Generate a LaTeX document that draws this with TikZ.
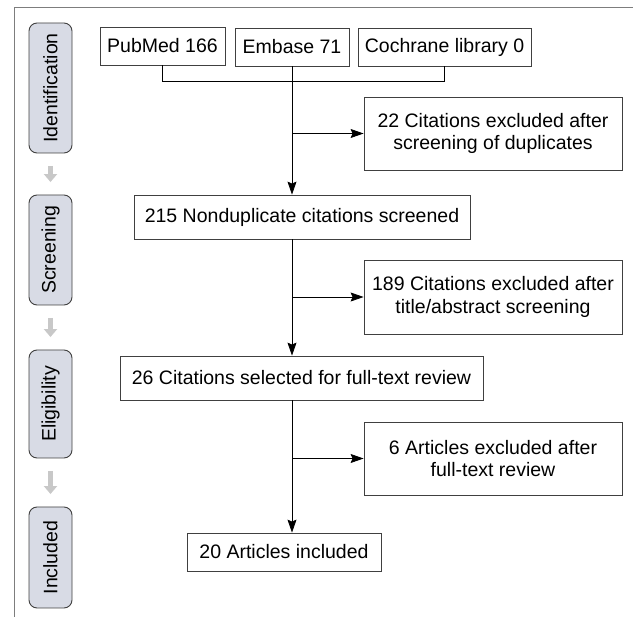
\documentclass[tikz,border=0pt]{standalone}
\usepackage{fontspec}
\setmainfont{Liberation Sans}
\usepackage{xcolor}
\usepackage{tikz}
\usetikzlibrary{arrows.meta,positioning,calc}
\definecolor{stagefill}{RGB}{216,219,229}
\definecolor{boxline}{RGB}{64,64,64}
\definecolor{framegray}{RGB}{125,125,125}
\definecolor{stepgray}{RGB}{200,200,200}

\begin{document}
\begin{tikzpicture}[
    x=1pt, y=-1pt,
    font=\fontsize{19.5}{22.5}\selectfont,
    box/.style={draw=boxline, line width=0.8pt, align=center, inner sep=0pt, fill=white},
    stage/.style={draw=boxline, line width=0.9pt, rounded corners=8pt, fill=stagefill, rotate=90, minimum height=43pt, inner sep=0pt},
    flow/.style={draw=black, line width=0.8pt, -{Stealth[length=13pt,width=9pt,inset=2pt]}},
    merge/.style={draw=black, line width=0.8pt},
    stepdown/.style={draw=stepgray, line width=5.5pt, -{Triangle[width=13pt,length=8pt]}, shorten <=12.5pt, shorten >=12.5pt}
]
    \useasboundingbox (0,0) rectangle (633,617);

    % Frame
    \draw[framegray, line width=1pt] (14,617) -- (14,8) -- (633,8);

    % Stages
    \node[stage, minimum width=130pt] (ident) at (50.5,88) {Identification};
    \node[stage, minimum width=110pt] (screen) at (50.5,250) {Screening};
    \node[stage, minimum width=108pt] (elig) at (50.5,404) {Eligibility};
    \node[stage, minimum width=101pt] (incl) at (50.5,557.5) {Included};
    \draw[stepdown] (ident.west) -- (screen.east);
    \draw[stepdown] (screen.west) -- (elig.east);
    \draw[stepdown] (elig.west) -- (incl.east);

    % Sources
    \node[box, minimum width=125pt, minimum height=38pt] (pubmed) at (162.5,46) {PubMed 166};
    \node[box, minimum width=114pt, minimum height=38pt] (embase) at (292,47) {Embase 71};
    \node[box, minimum width=173pt, minimum height=38pt] (cochrane) at (444.5,47) {Cochrane library 0};
    \coordinate (mergeL) at ($(pubmed.south)+(0,16)$);
    \draw[merge] (pubmed.south) -- (mergeL) -- (mergeL -| cochrane.south) -- (cochrane.south);

    % Main flow
    \node[box, minimum width=336pt, minimum height=44pt] (screened) at (302,217) {215 Nonduplicate citations screened};
    \node[box, minimum width=363pt, minimum height=44pt] (fulltext) at (301.5,378) {26 Citations selected for full-text review};
    \node[box, minimum width=194pt, minimum height=38pt] (included) at (284,552) {20 Articles included};
    \draw[flow] (embase.south) -- (embase.south |- screened.north);
    \draw[flow] (embase.south |- screened.south) -- (embase.south |- fulltext.north);
    \draw[flow] (embase.south |- fulltext.south) -- (embase.south |- included.north);

    % Exclusions
    \node[box, minimum width=258pt, minimum height=73pt] (excl1) at (493,133.5) {22 Citations excluded after\\screening of duplicates};
    \node[box, minimum width=258pt, minimum height=74pt] (excl2) at (493,297) {189 Citations excluded after\\title/abstract screening};
    \node[box, minimum width=258pt, minimum height=73pt] (excl3) at (493,458.5) {6 Articles excluded after\\full-text review};
    \draw[flow] (embase.south |- excl1.west) -- (excl1.west);
    \draw[flow] (embase.south |- excl2.west) -- (excl2.west);
    \draw[flow] (embase.south |- excl3.west) -- (excl3.west);
\end{tikzpicture}
\end{document}
